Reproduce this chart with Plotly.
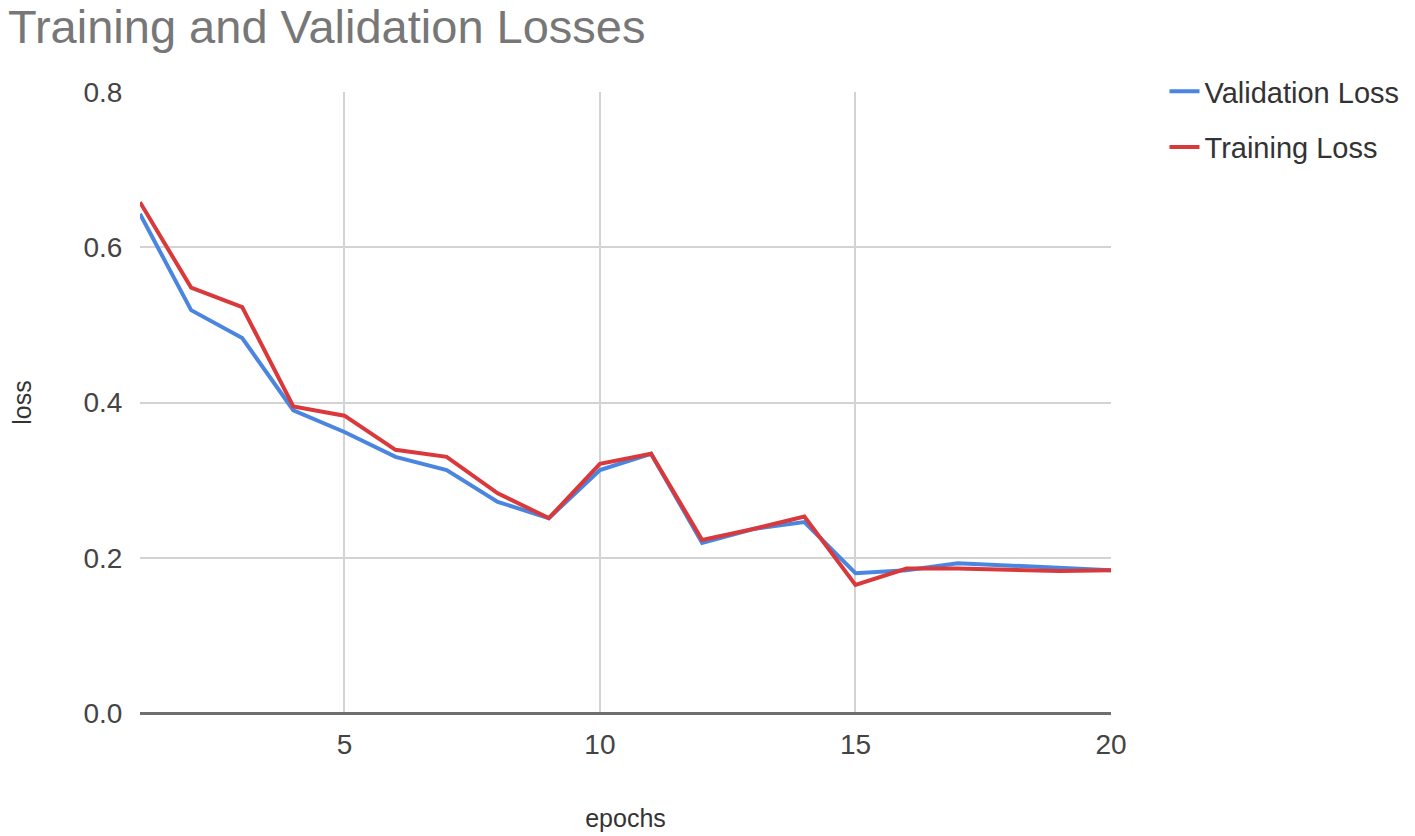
import plotly.graph_objects as go

epochs = list(range(1, 21))
validation_loss = [0.643, 0.519, 0.483, 0.390, 0.362, 0.330, 0.313, 0.272, 0.251, 0.313,
                   0.334, 0.219, 0.237, 0.246, 0.180, 0.184, 0.193, 0.190, 0.186, 0.184]
training_loss = [0.658, 0.548, 0.523, 0.395, 0.383, 0.339, 0.330, 0.283, 0.251, 0.321,
                 0.334, 0.223, 0.237, 0.253, 0.165, 0.186, 0.186, 0.184, 0.183, 0.184]

x_ticks = [5, 10, 15, 20]
y_ticks = [0.0, 0.2, 0.4, 0.6, 0.8]

FONT = "Liberation Sans, Arial, sans-serif"
W, H = 1407, 828

fig = go.Figure()
fig.add_trace(go.Scatter(x=epochs, y=validation_loss, mode="lines", name="Validation Loss",
                         legendgroup="v", line=dict(color="#4a86e0", width=4)))
fig.add_trace(go.Scatter(x=epochs, y=training_loss, mode="lines", name="Training Loss",
                         legendgroup="t", line=dict(color="#d9393b", width=4)))

fig.update_layout(
    width=W, height=H,
    paper_bgcolor="white", plot_bgcolor="white",
    margin=dict(l=132, r=303, t=84, b=123),
    font=dict(family=FONT, size=28, color="#444444"),
    title=dict(text="Training and Validation Losses", x=0.0, xref="container", xanchor="left",
               y=1 - 19 / H, yref="container", yanchor="middle",
               font=dict(family=FONT, size=47, color="#777777")),
    legend=dict(x=1.054, xanchor="left", y=1.042, yanchor="top",
                font=dict(family=FONT, size=29, color="#333333"),
                itemwidth=30, tracegroupgap=15, bgcolor="rgba(0,0,0,0)"),
    showlegend=True,
)

fig.update_xaxes(range=[1, 20], tickvals=x_ticks, ticktext=[str(v) for v in x_ticks],
                 automargin=False,
                 showgrid=True, gridcolor="#d3d3d3", gridwidth=2,
                 zeroline=False, showline=False,
                 ticks="outside", ticklen=6, tickcolor="rgba(0,0,0,0)",
                 title=dict(text="epochs", font=dict(size=25, color="#333333"), standoff=50))
fig.update_yaxes(range=[0, 0.8], tickvals=y_ticks, ticktext=[f"{v:.1f}" for v in y_ticks],
                 automargin=False,
                 showgrid=True, gridcolor="#d3d3d3", gridwidth=2,
                 zeroline=True, zerolinecolor="#6e6e6e", zerolinewidth=3,
                 showline=False, ticks="outside", ticklen=11, tickcolor="rgba(0,0,0,0)",
                 title=dict(text="loss", font=dict(size=25, color="#333333"), standoff=54))

fig.write_html("out.html")
